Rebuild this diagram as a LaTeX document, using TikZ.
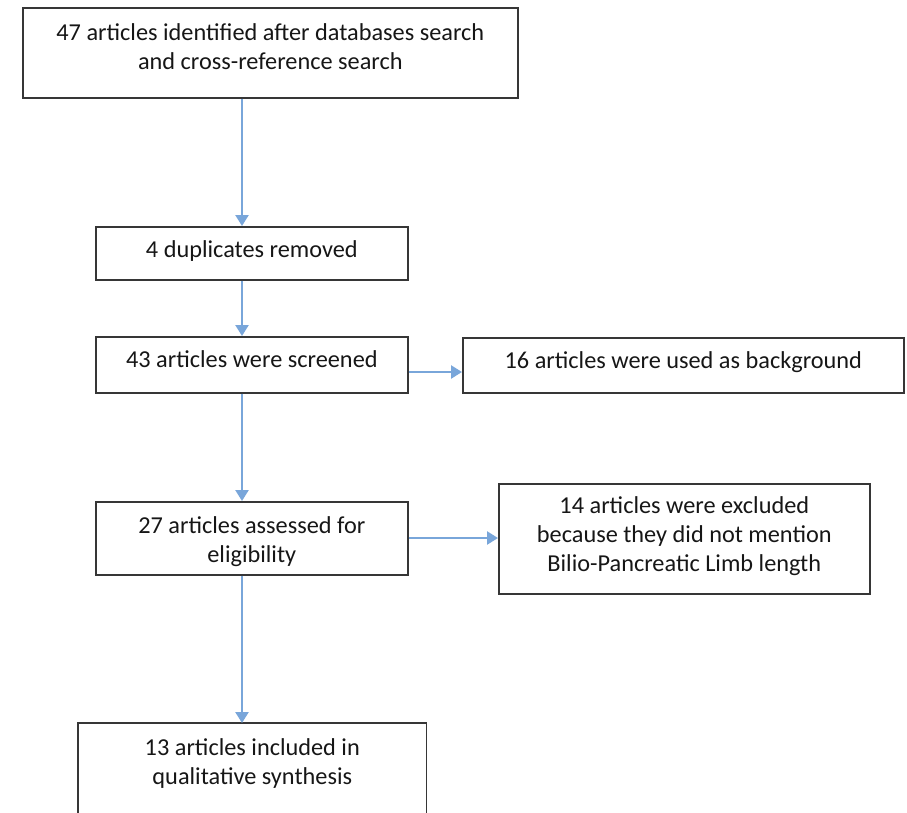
\documentclass[tikz,border=0pt]{standalone}
\usepackage{fontspec}
\setmainfont{Carlito}
\usetikzlibrary{arrows.meta}
\definecolor{flow}{HTML}{79A6DA}
\definecolor{edgegray}{HTML}{363636}
\definecolor{ink}{HTML}{161616}
\newcommand{\liftedtext}[2]{\raisebox{#1}[\height][\depth]{\begin{tabular}{@{}c@{}}#2\end{tabular}}}
\begin{document}
\begin{tikzpicture}[x=1pt,y=-1pt,
  boxline/.style={draw=edgegray, line width=1.6pt},
  box/.style={boxline, rectangle, inner sep=0pt, text=ink,
    font=\fontsize{24.3}{29}\selectfont, anchor=north west},
  flowarrow/.style={draw=flow, line width=2.4pt, -{Triangle[width=13pt,length=11pt]}}]
\useasboundingbox (0,0) rectangle (907,812);

\node[box, minimum width=495pt, minimum height=90pt] (b1) at (22,7)
  {\liftedtext{4pt}{47 articles identified after databases search\\and cross-reference search}};
\node[box, minimum width=312pt, minimum height=53pt] (b2) at (95,226)
  {\liftedtext{1.3pt}{4 duplicates removed}};
\node[box, minimum width=312pt, minimum height=56pt] (b3) at (95,336)
  {\liftedtext{3pt}{43 articles were screened}};
\node[box, minimum width=441pt, minimum height=55pt] (b4) at (462,337)
  {\liftedtext{2.3pt}{16 articles were used as background}};
\node[box, minimum width=312pt, minimum height=73pt] (b5) at (95,501)
  {\liftedtext{-4.2pt}{27 articles assessed for\\eligibility}};
\node[box, minimum width=371pt, minimum height=110pt] (b6) at (498,483)
  {\liftedtext{1.8pt}{14 articles were excluded\\because they did not mention\\Bilio-Pancreatic Limb length}};
\node[box, draw=none, minimum width=347pt, minimum height=80pt] (b7) at (78,723)
  {\liftedtext{0pt}{13 articles included in\\qualitative synthesis}};
\draw[boxline] ([yshift=-10pt]b7.south west) -- (b7.north west) -- (b7.north east) -- ([yshift=-10pt]b7.south east);

\coordinate (ax) at (242,0);
\coordinate (ay1) at (0,372);
\coordinate (ay2) at (0,538);
\draw[flowarrow] (ax |- b1.south) -- (ax |- b2.north);
\draw[flowarrow] (ax |- b2.south) -- (ax |- b3.north);
\draw[flowarrow] (ax |- b3.south) -- (ax |- b5.north);
\draw[flowarrow] (ax |- b5.south) -- (ax |- b7.north);
\draw[flowarrow] (b3.east |- ay1) -- (b4.west |- ay1);
\draw[flowarrow] (b5.east |- ay2) -- (b6.west |- ay2);
\end{tikzpicture}
\end{document}
